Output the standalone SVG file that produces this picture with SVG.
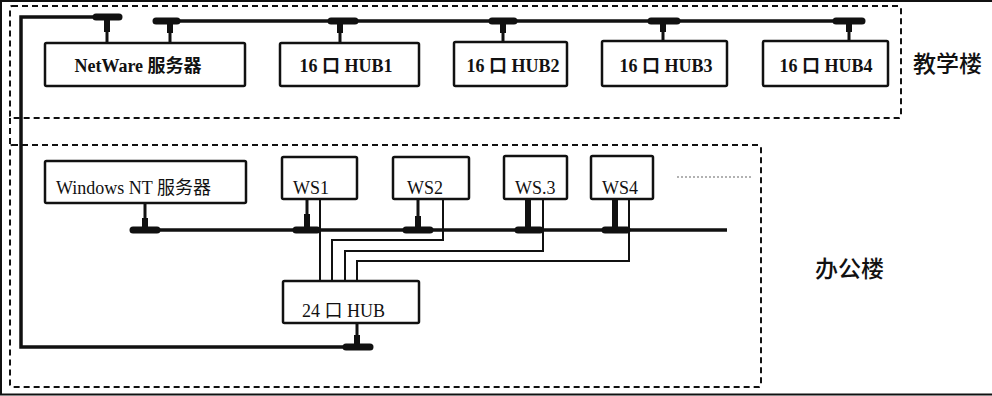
<svg xmlns="http://www.w3.org/2000/svg" width="992" height="396" viewBox="0 0 992 396">
<style>
.frame{stroke:#111;stroke-width:2;fill:none}
.zone{fill:none;stroke:#111;stroke-width:2;stroke-dasharray:6 4}
.box{fill:#fff;stroke:#111;stroke-width:2.5}
.bus{fill:none;stroke:#111;stroke-width:3.5;stroke-linecap:butt}
.blob{stroke:#111;stroke-width:7;stroke-linecap:round}
.stemw{stroke:#111;stroke-width:6}
.stemn{stroke:#111;stroke-width:3}
.wire{fill:none;stroke:#111;stroke-width:2}
.tb{font-family:"Liberation Serif","Noto Sans CJK SC",serif;font-size:18px;font-weight:bold;fill:#111;text-anchor:middle}
.tr{font-family:"Liberation Serif","Noto Sans CJK SC",serif;font-size:18px;fill:#111}
.lab{font-family:"Noto Sans CJK SC","Noto Sans",sans-serif;font-size:23px;font-weight:500;fill:#111}
</style>
<rect width="992" height="396" fill="#fff"/>
<path class="frame" d="M992,1 H1 V394.5 H992"/>
<g id="zones">
<rect class="zone" x="10" y="6" width="891" height="112" rx="2"/>
<rect class="zone" x="10" y="145" width="751" height="242" rx="2"/>
<line class="zone" x1="10" y1="118" x2="10" y2="145"/>
<line x1="677" y1="177" x2="751" y2="177" stroke="#999" stroke-width="1.5" stroke-dasharray="2 2"/>
</g>
<g id="connectors">
<path class="bus" d="M122,17 H21 V347 H373" stroke-width="4"/>
<path class="bus" d="M153,21 H865"/>
<path class="bus" d="M130,230 H727"/>
<line class="blob" x1="96" y1="17" x2="119" y2="17"/>
<line class="blob" x1="156" y1="21" x2="177" y2="21"/>
<line class="blob" x1="331" y1="21" x2="355" y2="21"/>
<line class="blob" x1="492" y1="21" x2="514" y2="21"/>
<line class="blob" x1="651" y1="21" x2="677" y2="21"/>
<line class="blob" x1="836" y1="21" x2="862" y2="21"/>
<line class="stemw" x1="107" y1="17" x2="107" y2="32"/><line class="stemn" x1="107" y1="30" x2="107" y2="43"/>
<line class="stemw" x1="170" y1="21" x2="170" y2="33"/><line class="stemn" x1="170" y1="31" x2="170" y2="43"/>
<line class="stemw" x1="340" y1="21" x2="340" y2="33"/><line class="stemn" x1="340" y1="31" x2="340" y2="43"/>
<line class="stemw" x1="503" y1="21" x2="503" y2="33"/><line class="stemn" x1="503" y1="31" x2="503" y2="42"/>
<line class="stemw" x1="663" y1="21" x2="663" y2="32"/><line class="stemn" x1="663" y1="30" x2="663" y2="41"/>
<line class="stemw" x1="849" y1="21" x2="849" y2="32"/><line class="stemn" x1="849" y1="30" x2="849" y2="41"/>
<line class="blob" x1="133" y1="230" x2="157" y2="230"/>
<line class="blob" x1="296" y1="230" x2="317" y2="230"/>
<line class="blob" x1="406" y1="230" x2="430" y2="230"/>
<line class="blob" x1="518" y1="230" x2="540" y2="230"/>
<line class="blob" x1="605" y1="230" x2="627" y2="230"/>
<line class="blob" x1="346" y1="347" x2="370" y2="347"/>
<line class="stemn" x1="145" y1="203" x2="145" y2="220"/><line class="stemw" x1="145" y1="218" x2="145" y2="230"/>
<line class="stemn" x1="307" y1="199" x2="307" y2="216"/><line class="stemw" x1="307" y1="214" x2="307" y2="230"/>
<line class="stemn" x1="418" y1="199" x2="418" y2="218"/><line class="stemw" x1="418" y1="216" x2="418" y2="230"/>
<line class="stemw" x1="528" y1="199" x2="528" y2="230" stroke-width="7"/>
<line class="stemw" x1="615" y1="197" x2="615" y2="230" stroke-width="7" stroke-linecap="round"/>
<line class="stemn" x1="357" y1="323" x2="357" y2="337"/><line class="stemw" x1="357" y1="335" x2="357" y2="347"/>
<path class="wire" d="M320,199 V281"/>
<path class="wire" d="M443,199 V240 H332 V281"/>
<path class="wire" d="M543,199 V251 H345 V281"/>
<path class="wire" d="M629,199 V261 H357 V281"/>
</g>
<g id="netware"><rect class="box" x="45" y="43" width="200" height="43" rx="1.5"/><text class="tb" x="138" y="72">NetWare 服务器</text></g>
<g id="hub1"><rect class="box" x="280" y="43" width="139" height="43" rx="1.5"/><text class="tb" x="346" y="72">16 口 HUB1</text></g>
<g id="hub2"><rect class="box" x="454" y="42" width="113" height="44" rx="1.5"/><text class="tb" x="513" y="72">16 口 HUB2</text></g>
<g id="hub3"><rect class="box" x="602" y="41" width="125" height="45" rx="1.5"/><text class="tb" x="666" y="72">16 口 HUB3</text></g>
<g id="hub4"><rect class="box" x="763" y="41" width="125" height="45" rx="1.5"/><text class="tb" x="826" y="72">16 口 HUB4</text></g>
<g id="label-teach"><text class="lab" x="913" y="72">教学楼</text></g>
<g id="winnt"><rect class="box" x="45" y="161" width="201" height="42" rx="1.5"/><text class="tr" x="56" y="194">Windows NT 服务器</text></g>
<g id="ws1"><rect class="box" x="282" y="157" width="75" height="42" rx="1.5"/><text class="tr" x="293" y="194">WS1</text></g>
<g id="ws2"><rect class="box" x="393" y="157" width="76" height="42" rx="1.5"/><text class="tr" x="407" y="194">WS2</text></g>
<g id="ws3"><rect class="box" x="504" y="156" width="63" height="43" rx="1.5"/><text class="tr" x="515" y="194">WS.3</text></g>
<g id="ws4"><rect class="box" x="591" y="156" width="62" height="43" rx="1.5"/><text class="tr" x="602" y="194">WS4</text></g>
<g id="hub24"><rect class="box" x="283" y="281" width="136" height="42" rx="1.5"/><text class="tr" x="302" y="317">24 口 HUB</text></g>
<g id="label-office"><text class="lab" x="815" y="277">办公楼</text></g>
</svg>
